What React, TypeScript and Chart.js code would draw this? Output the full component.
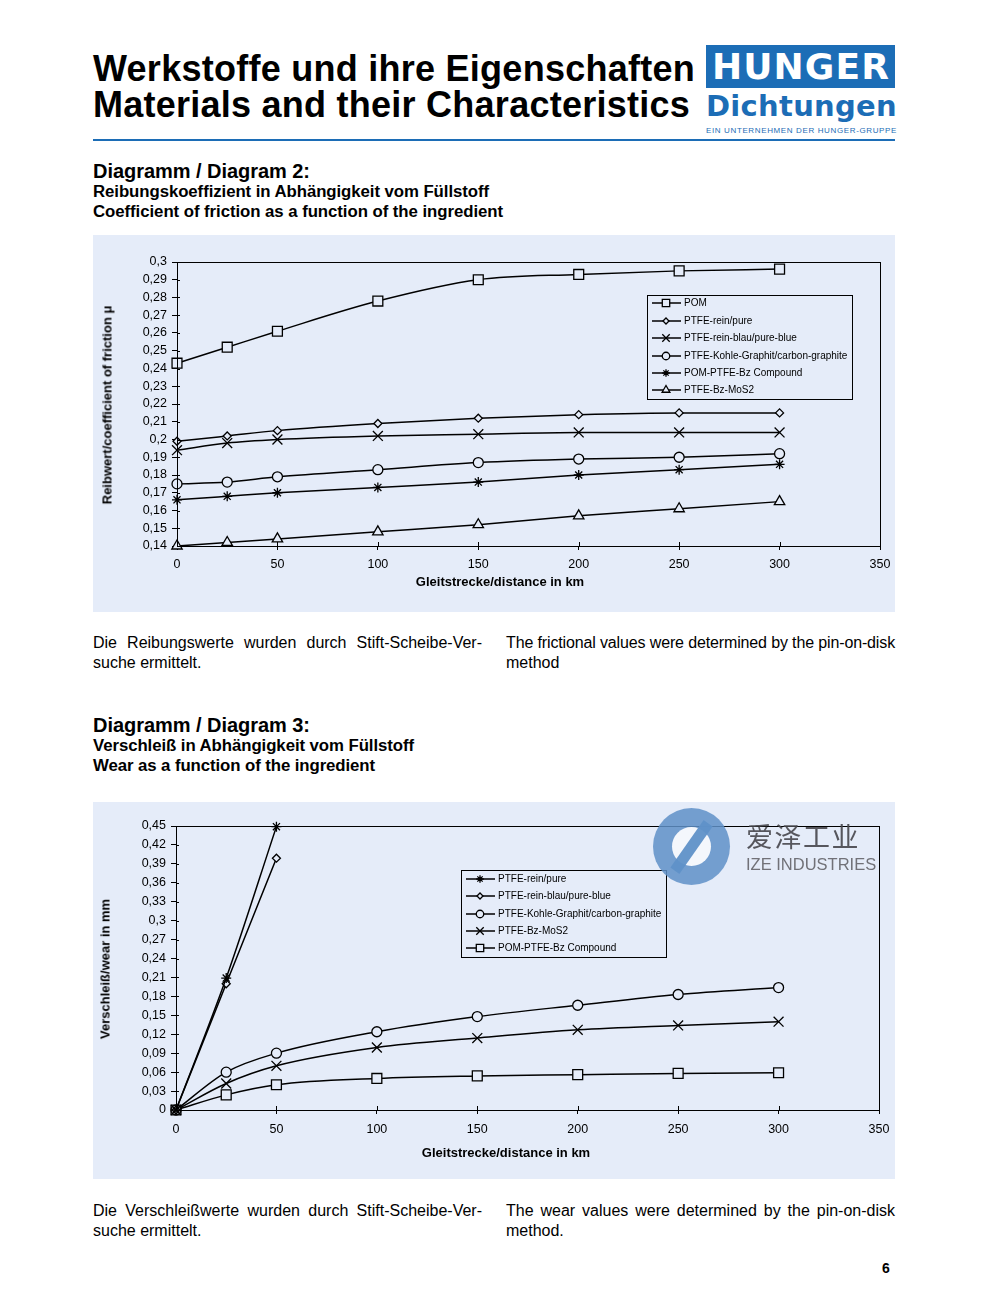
import React, { useEffect, useLayoutEffect, useRef } from 'react';
import { Chart, registerables } from 'chart.js';
import { drawPoint } from 'chart.js/helpers';

Chart.register(...registerables);

const FONT = '"Liberation Sans", Arial, Helvetica, sans-serif';
const PANEL = '#e5ecf9';
const BLUE = '#1c6db6';

// ---------- data: diagram 2 (friction) ----------
const distanceKm = [0, 25, 50, 100, 150, 200, 250, 300];
const frictionPOM = [0.243, 0.252, 0.261, 0.278, 0.29, 0.293, 0.295, 0.296];
const frictionPTFEPure = [0.199, 0.202, 0.205, 0.209, 0.212, 0.214, 0.215, 0.215];
const frictionPTFEBlue = [0.194, 0.198, 0.2, 0.202, 0.203, 0.204, 0.204, 0.204];
const frictionCarbon = [0.175, 0.176, 0.179, 0.183, 0.187, 0.189, 0.19, 0.192];
const frictionPOMPTFEBz = [0.166, 0.168, 0.17, 0.173, 0.176, 0.18, 0.183, 0.186];
const frictionBzMoS2 = [0.14, 0.142, 0.144, 0.148, 0.152, 0.157, 0.161, 0.165];
const frictionYTickLabels = ['0,14', '0,15', '0,16', '0,17', '0,18', '0,19', '0,2', '0,21', '0,22', '0,23', '0,24', '0,25', '0,26', '0,27', '0,28', '0,29', '0,3'];

// ---------- data: diagram 3 (wear) ----------
const wearDistanceShort = [0, 25, 50];
const wearPTFEPure = [0, 0.209, 0.449];
const wearPTFEBlue = [0, 0.2, 0.399];
const wearCarbon = [0, 0.06, 0.09, 0.124, 0.148, 0.166, 0.183, 0.194];
const wearBzMoS2 = [0, 0.042, 0.07, 0.099, 0.114, 0.127, 0.134, 0.14];
const wearPOMPTFEBz = [0, 0.024, 0.04, 0.05, 0.054, 0.056, 0.058, 0.059];
const wearYTickLabels = ['0', '0,03', '0,06', '0,09', '0,12', '0,15', '0,18', '0,21', '0,24', '0,27', '0,3', '0,33', '0,36', '0,39', '0,42', '0,45'];

const distanceTickLabels = ['0', '50', '100', '150', '200', '250', '300', '350'];

const toNum = (s: string) => parseFloat(s.replace(',', '.'));

function series(label: string, xs: number[], ys: number[], pointStyle: string, radius: number) {
  return {
    label,
    data: xs.map((x, i) => ({ x, y: ys[i] })),
    borderColor: '#000',
    borderWidth: 1.5,
    pointStyle,
    pointRadius: radius,
    pointBorderWidth: 1.3,
    pointBorderColor: '#000',
    pointBackgroundColor: PANEL,
    cubicInterpolationMode: 'monotone',
    clip: false,
  };
}

const framePlugin = {
  id: 'frameLegend',
  afterDraw(chart: any, _args: any, opts: any) {
    const { ctx, chartArea: a } = chart;
    ctx.save();
    ctx.strokeStyle = '#000';
    ctx.lineWidth = 1;
    ctx.strokeRect(Math.round(a.left) + 0.5, Math.round(a.top) + 0.5, Math.round(a.width), Math.round(a.height));
    // inner halves of ticks (cross tick marks)
    const xs = chart.scales.x;
    xs.ticks.forEach((t: any) => {
      const px = Math.round(xs.getPixelForValue(t.value)) + 0.5;
      ctx.beginPath();
      ctx.moveTo(px, a.bottom - 4);
      ctx.lineTo(px, a.bottom);
      ctx.stroke();
    });
    const ys = chart.scales.y;
    ys.ticks.forEach((t: any) => {
      const py = Math.round(ys.getPixelForValue(t.value)) + 0.5;
      ctx.beginPath();
      ctx.moveTo(a.left, py);
      ctx.lineTo(a.left + 3, py);
      ctx.stroke();
    });
    const L = opts.legend;
    if (L) {
      ctx.fillStyle = PANEL;
      ctx.fillRect(L.x, L.y, L.w, L.h);
      ctx.strokeStyle = '#000';
      ctx.lineWidth = 1;
      ctx.strokeRect(L.x + 0.5, L.y + 0.5, L.w, L.h);
      ctx.font = '10px ' + FONT;
      ctx.textBaseline = 'middle';
      chart.data.datasets.forEach((ds: any, i: number) => {
        const y = L.rows[i];
        ctx.strokeStyle = '#000';
        ctx.lineWidth = 1.5;
        ctx.beginPath();
        ctx.moveTo(L.x0, y);
        ctx.lineTo(L.x1, y);
        ctx.stroke();
        ctx.fillStyle = PANEL;
        ctx.lineWidth = 1.3;
        drawPoint(ctx, { pointStyle: ds.pointStyle, radius: ds.pointRadius * 0.75, borderWidth: 1.3, rotation: 0 } as any, L.mx, y);
        ctx.fillStyle = '#000';
        ctx.fillText(ds.label, L.tx, y + 0.5);
      });
    }
    ctx.restore();
  },
};

function LineChart(props: any) {
  const ref = useRef<HTMLCanvasElement>(null);
  useEffect(() => {
    const yTickVals = props.yLabels.map(toNum);
    const xTickVals = distanceTickLabels.map(toNum);
    const tickFont = { family: FONT, size: 12.5 };
    const chart = new Chart(ref.current as HTMLCanvasElement, {
      type: 'line',
      data: { datasets: props.datasets },
      plugins: [framePlugin],
      options: {
        animation: false,
        responsive: false,
        devicePixelRatio: 1,
        layout: { padding: { top: props.padTop, right: props.padRight, left: 0, bottom: 0 } },
        plugins: {
          legend: { display: false },
          tooltip: { enabled: false },
          frameLegend: { legend: props.legend },
        } as any,
        scales: {
          x: {
            type: 'linear',
            min: xTickVals[0],
            max: xTickVals[xTickVals.length - 1],
            afterBuildTicks: (s: any) => { s.ticks = xTickVals.map((v: number) => ({ value: v })); },
            afterFit: (s: any) => { s.height = props.xHeight; s.paddingLeft = 0; s.paddingRight = 0; },
            ticks: {
              callback: (_v: any, i: number) => distanceTickLabels[i],
              color: '#000',
              font: tickFont,
              padding: props.xPad,
              maxRotation: 0,
              autoSkip: false,
            },
            grid: { display: true, drawOnChartArea: false, drawTicks: true, tickLength: 4, color: '#000' },
            border: { display: true, color: '#000', width: 1 },
          },
          y: {
            type: 'linear',
            min: yTickVals[0],
            max: yTickVals[yTickVals.length - 1],
            afterBuildTicks: (s: any) => { s.ticks = yTickVals.map((v: number) => ({ value: v })); },
            afterFit: (s: any) => { s.width = props.yWidth; s.paddingTop = 0; s.paddingBottom = 0; },
            ticks: {
              callback: (_v: any, i: number) => props.yLabels[i],
              color: '#000',
              font: tickFont,
              padding: 5,
              autoSkip: false,
            },
            grid: { display: true, drawOnChartArea: false, drawTicks: true, tickLength: 5, color: '#000' },
            border: { display: true, color: '#000', width: 1 },
          },
        },
      } as any,
    });
    return () => chart.destroy();
  }, []);
  return (
    <canvas
      ref={ref}
      width={props.width}
      height={props.height}
      style={{ position: 'absolute', left: props.left, top: props.top, width: props.width, height: props.height }}
    />
  );
}

function FitText(p: any) {
  const ref = useRef<HTMLDivElement>(null);
  const lh = p.lh || Math.round(p.size * 1.2);
  useLayoutEffect(() => {
    const el = ref.current;
    if (!el || !p.w) return;
    const fit = () => {
      el.style.letterSpacing = '0px';
      el.style.wordSpacing = '0px';
      const nat = el.getBoundingClientRect().width;
      const diff = p.w - nat;
      if (p.mode === 'word') {
        const n = (p.text.match(/ /g) || []).length;
        if (n) el.style.wordSpacing = diff / n + 'px';
      } else {
        el.style.letterSpacing = diff / p.text.length + 'px';
      }
    };
    fit();
    if ((document as any).fonts) (document as any).fonts.ready.then(fit);
  }, []);
  return (
    <div
      ref={ref}
      style={{
        position: 'absolute',
        left: p.x,
        top: p.cy - lh / 2,
        fontFamily: p.family || FONT,
        fontSize: p.size,
        fontWeight: p.weight || 400,
        lineHeight: lh + 'px',
        color: p.color || '#000',
        whiteSpace: 'nowrap',
      }}
    >
      {p.text}
    </div>
  );
}

function RotText(p: any) {
  return (
    <div
      style={{
        position: 'absolute',
        left: p.cx,
        top: p.cy,
        transform: 'translate(-50%, -50%) rotate(-90deg)',
        fontFamily: FONT,
        fontSize: p.size,
        fontWeight: 700,
        whiteSpace: 'nowrap',
        lineHeight: '1',
      }}
    >
      {p.text}
    </div>
  );
}

function CenterText(p: any) {
  return (
    <div
      style={{
        position: 'absolute',
        left: p.cx,
        top: p.cy,
        transform: 'translate(-50%, -50%)',
        fontFamily: FONT,
        fontSize: p.size,
        fontWeight: 700,
        whiteSpace: 'nowrap',
        lineHeight: '1',
      }}
    >
      {p.text}
    </div>
  );
}

export default function App() {
  const frictionDatasets = [
    series('POM', distanceKm, frictionPOM, 'rect', 7),
    series('PTFE-rein/pure', distanceKm, frictionPTFEPure, 'rectRot', 4),
    series('PTFE-rein-blau/pure-blue', distanceKm, frictionPTFEBlue, 'crossRot', 7),
    series('PTFE-Kohle-Graphit/carbon-graphite', distanceKm, frictionCarbon, 'circle', 5),
    series('POM-PTFE-Bz Compound', distanceKm, frictionPOMPTFEBz, 'star', 5),
    series('PTFE-Bz-MoS2', distanceKm, frictionBzMoS2, 'triangle', 6),
  ];
  const wearDatasets = [
    series('PTFE-rein/pure', wearDistanceShort, wearPTFEPure, 'star', 5),
    series('PTFE-rein-blau/pure-blue', wearDistanceShort, wearPTFEBlue, 'rectRot', 4),
    series('PTFE-Kohle-Graphit/carbon-graphite', distanceKm, wearCarbon, 'circle', 5),
    series('PTFE-Bz-MoS2', distanceKm, wearBzMoS2, 'crossRot', 7),
    series('POM-PTFE-Bz Compound', distanceKm, wearPOMPTFEBz, 'rect', 7),
  ];

  return (
    <div style={{ position: 'absolute', left: 0, top: 0, width: 986, height: 1312, background: '#fff', fontFamily: FONT, overflow: 'hidden' }}>
      {/* header */}
      <FitText x={93} cy={68} w={602} size={36} weight={700} text="Werkstoffe und ihre Eigenschaften" />
      <FitText x={93} cy={104} w={597} size={36} weight={700} text="Materials and their Characteristics" />
      <div style={{ position: 'absolute', left: 706, top: 45, width: 189, height: 43, background: BLUE }} />
      <FitText x={712} cy={67} w={178} size={36} weight={700} family='"DejaVu Sans", sans-serif' color="#fff" lh={40} text="HUNGER" />
      <FitText x={706} cy={106} w={191} size={29} weight={700} family='"DejaVu Sans", sans-serif' color={BLUE} lh={32} text="Dichtungen" />
      <FitText x={706} cy={131} w={191} size={8} color={BLUE} lh={10} text="EIN UNTERNEHMEN DER HUNGER-GRUPPE" />
      <div style={{ position: 'absolute', left: 93, top: 139, width: 802, height: 2, background: BLUE }} />

      {/* diagram 2 */}
      <FitText x={93} cy={171} w={217} size={20} weight={700} text="Diagramm / Diagram 2:" />
      <FitText x={93} cy={192} w={396} size={16.8} weight={700} text="Reibungskoeffizient in Abhängigkeit vom Füllstoff" />
      <FitText x={93} cy={212} w={410} size={16.8} weight={700} text="Coefficient of friction as a function of the ingredient" />
      <div style={{ position: 'absolute', left: 93, top: 235, width: 802, height: 377, background: PANEL }} />
      <LineChart
        left={93} top={235} width={802} height={377}
        padTop={27} padRight={15} yWidth={84} xHeight={66} xPad={7}
        yLabels={frictionYTickLabels}
        datasets={frictionDatasets}
        legend={{ x: 554, y: 60, w: 205, h: 104, rows: [68, 86, 103, 121, 138, 155], x0: 559, x1: 588, mx: 573, tx: 591 }}
      />
      <RotText cx={107} cy={405} size={13} text="Reibwert/coefficient of friction μ" />
      <CenterText cx={500} cy={581} size={13} text="Gleitstrecke/distance in km" />

      <FitText x={93} cy={642} w={389} size={16} mode="word" text="Die Reibungswerte wurden durch Stift-Scheibe-Ver-" />
      <FitText x={93} cy={662} size={16} text="suche ermittelt." />
      <FitText x={506} cy={642} w={389} size={16} text="The frictional values were determined by the pin-on-disk" />
      <FitText x={506} cy={662} size={16} text="method" />

      {/* diagram 3 */}
      <FitText x={93} cy={725} w={217} size={20} weight={700} text="Diagramm / Diagram 3:" />
      <FitText x={93} cy={746} w={321} size={16.8} weight={700} text="Verschleiß in Abhängigkeit vom Füllstoff" />
      <FitText x={93} cy={766} w={282} size={16.8} weight={700} text="Wear as a function of the ingredient" />
      <div style={{ position: 'absolute', left: 93, top: 802, width: 802, height: 377, background: PANEL }} />
      <LineChart
        left={93} top={802} width={802} height={377}
        padTop={24} padRight={16} yWidth={83} xHeight={69} xPad={8}
        yLabels={wearYTickLabels}
        datasets={wearDatasets}
        legend={{ x: 368, y: 68, w: 205, h: 87, rows: [77, 94, 112, 129, 146], x0: 373, x1: 402, mx: 387, tx: 405 }}
      />
      <RotText cx={105} cy={969} size={13} text="Verschleiß/wear in mm" />
      <CenterText cx={506} cy={1152} size={13} text="Gleitstrecke/distance in km" />

      {/* watermark */}
      <div style={{ position: 'absolute', left: 653, top: 808, width: 77, height: 77, borderRadius: '50%', background: 'rgba(95,145,200,0.85)' }} />
      <div style={{ position: 'absolute', left: 672, top: 827, width: 39, height: 39, borderRadius: '50%', background: '#f4f7fc' }} />
      <div style={{ position: 'absolute', left: 686, top: 818, width: 11, height: 58, background: 'rgba(95,145,200,0.95)', transform: 'rotate(35deg)' }} />
      <div style={{ position: 'absolute', left: 746, top: 820, fontFamily: '"Noto Sans CJK SC", sans-serif', fontSize: 27, lineHeight: '32px', color: 'rgba(70,70,75,0.9)', letterSpacing: 1.5 }}>爱泽工业</div>
      <div style={{ position: 'absolute', left: 746, top: 854, fontFamily: FONT, fontSize: 16.5, lineHeight: '20px', color: 'rgba(100,100,105,0.9)' }}>IZE INDUSTRIES</div>

      <FitText x={93} cy={1210} w={389} size={16} mode="word" text="Die Verschleißwerte wurden durch Stift-Scheibe-Ver-" />
      <FitText x={93} cy={1230} size={16} text="suche ermittelt." />
      <FitText x={506} cy={1210} w={389} size={16} mode="word" text="The wear values were determined by the pin-on-disk" />
      <FitText x={506} cy={1230} size={16} text="method." />

      <div style={{ position: 'absolute', left: 882, top: 1260, fontFamily: FONT, fontSize: 14, fontWeight: 700, lineHeight: '16px' }}>6</div>
    </div>
  );
}
